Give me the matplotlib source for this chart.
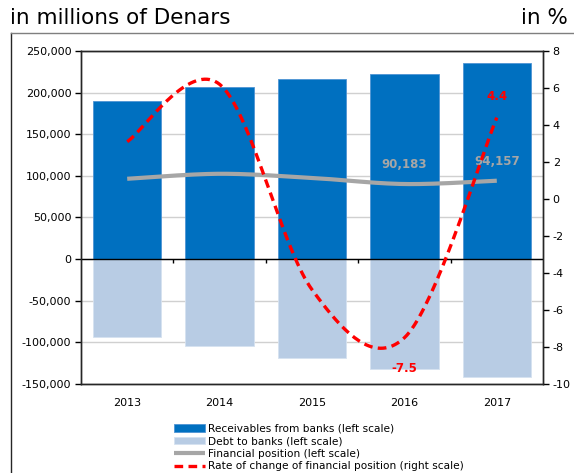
import numpy as np
import matplotlib
matplotlib.use("Agg")
import matplotlib.pyplot as plt
from matplotlib.lines import Line2D
from matplotlib.ticker import FuncFormatter

years = ["2013", "2014", "2015", "2016", "2017"]
receivables = [189500, 206500, 216000, 222000, 235500]
debt = [-93000, -104000, -118500, -131817, -141343]
fin_position = [96500, 102500, 97500, 90183, 94157]
rate_change = [3.1, 6.2, -4.9, -7.5, 4.4]

BLUE = "#0070C0"
LIGHT = "#B8CCE4"
GREY = "#A6A6A6"
RED = "#FF0000"


def smooth(xs, ys, n=40):
    # excel-like smoothed line (catmull-rom through the points)
    p = np.column_stack([xs, ys]).astype(float)
    p = np.vstack([p[0], p, p[-1]])
    out = []
    t = np.linspace(0, 1, n)[:, None]
    for i in range(1, len(p) - 2):
        p0, p1, p2, p3 = p[i - 1], p[i], p[i + 1], p[i + 2]
        c1 = p1 + (p2 - p0) / 6
        c2 = p2 - (p3 - p1) / 6
        seg = ((1 - t) ** 3) * p1 + 3 * ((1 - t) ** 2) * t * c1 + 3 * (1 - t) * t ** 2 * c2 + t ** 3 * p2
        out.append(seg)
    out = np.vstack(out)
    return out[:, 0], out[:, 1]


plt.rcParams["font.family"] = ["DejaVu Sans"]
plt.rcParams["axes.unicode_minus"] = False

fig = plt.figure(figsize=(5.74, 4.73), dpi=100)
ax = fig.add_axes([0.1411, 0.1882, 0.8049, 0.704])
ax2 = ax.twinx()

x = np.arange(len(years))
b1 = ax.bar(x, receivables, width=0.74, color=BLUE, edgecolor="#4F94D4", linewidth=0.6, zorder=2,
            label="Receivables from banks (left scale)")
b2 = ax.bar(x, debt, width=0.74, color=LIGHT, edgecolor="#D6E2F0", linewidth=0.6, zorder=2,
            label="Debt to banks (left scale)")
sx, sy = smooth(x, fin_position)
l1, = ax.plot(sx, sy, color=GREY, lw=3, solid_capstyle="butt", zorder=3,
              label="Financial position (left scale)")

rx, ry = smooth(x, rate_change)
l2, = ax2.plot(rx, ry, color=RED, lw=2.4, dashes=(2.6, 1.6), zorder=4,
               label="Rate of change of financial position (right scale)")

ax.set_xlim(-0.5, len(years) - 0.5)
ax.set_ylim(-150000, 250000)
ax.set_yticks(np.arange(-150000, 250001, 50000))
ax.yaxis.set_major_formatter(FuncFormatter(lambda v, p: f"{v:,.0f}"))
ax.grid(axis="y", color="#D0D0D0", lw=1, zorder=0)
ax.set_axisbelow(True)
ax.axhline(0, color="black", lw=1, zorder=5)
ax.vlines(x[:-1] + 0.5, -4500, 0, color="black", lw=1, zorder=5)

ax2.set_ylim(-10, 8)
ax2.set_yticks(np.arange(-10, 9, 2))

ax.set_xticks(x)
ax.set_xticklabels(years)
ax.tick_params(axis="x", length=0, pad=10, labelsize=8)
ax.tick_params(axis="y", length=4, width=1, labelsize=8, pad=3)
ax2.tick_params(axis="y", length=4, width=1, labelsize=8, pad=3)
for a in (ax, ax2):
    for s in a.spines.values():
        s.set_color("#262626")
        s.set_linewidth(1)

ax.set_zorder(ax2.get_zorder() - 1)
ax2.patch.set_visible(False)

for i in (3, 4):
    ax.annotate(f"{fin_position[i]:,}", (x[i], fin_position[i]), xytext=(0, 14),
                textcoords="offset points", ha="center", va="center",
                color=GREY, fontsize=8.5, fontweight="bold", zorder=6)
ax2.annotate(f"{rate_change[4]}", (x[4], rate_change[4]), xytext=(0, 15),
             textcoords="offset points", ha="center", va="center",
             color=RED, fontsize=8.5, fontweight="bold")
ax2.annotate(f"{rate_change[3]}", (x[3], rate_change[3]), xytext=(0, -22),
             textcoords="offset points", ha="center", va="center",
             color=RED, fontsize=8.5, fontweight="bold")

fig.text(0.017, 0.962, "in millions of Denars", fontsize=15.5, ha="left", va="center")
fig.text(0.99, 0.962, "in %", fontsize=15.5, ha="right", va="center")

fig.add_artist(Line2D([11 / 574, 11 / 574], [0, 1 - 33 / 473], color="#262626", lw=1))
fig.add_artist(Line2D([11 / 574, 1], [1 - 33 / 473, 1 - 33 / 473], color="#7F7F7F", lw=1))

fig.legend([b1, b2, l1, l2], [b1.get_label(), b2.get_label(), l1.get_label(), l2.get_label()],
           loc="upper left", bbox_to_anchor=(0.304, 0.104),
           frameon=False, fontsize=7.6, handlelength=2.9, handletextpad=0.25,
           labelspacing=0.24, borderaxespad=0, borderpad=0)

fig.savefig("out.png", dpi=100)
